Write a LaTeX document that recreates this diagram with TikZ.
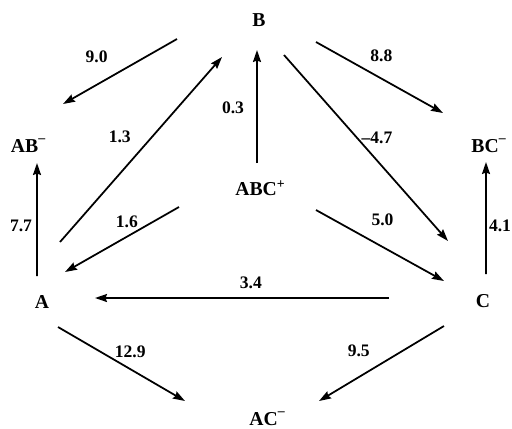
\documentclass[tikz,border=0pt]{standalone}
\usepackage{fontspec}
\setmainfont{Liberation Serif}
\usetikzlibrary{arrows.meta}
\newcommand{\anion}{\textsuperscript{\raisebox{.2em}{--}}}

\begin{document}
\begin{tikzpicture}[
 species/.style={font=\fontsize{11.2}{13}\selectfont\bfseries,inner sep=0pt,anchor=base},
 rate/.style={font=\fontsize{10}{12}\selectfont\bfseries,inner sep=1pt},
 arr/.style={-{Stealth[length=2.4mm,width=1.6mm,inset=0.3mm]},line width=1pt}]
\useasboundingbox (0,0) rectangle (10.24,-8.56);
% species
\node[species] (B) at (5.18,-0.52) {B};
\node[species] (ABm) at (0.57,-3.04) {AB\anion};
\node[species] (ABCp) at (5.21,-3.90) {ABC\textsuperscript{+}};
\node[species] (BCm) at (9.78,-3.04) {BC\anion};
\node[species] (A) at (0.84,-6.16) {A};
\node[species] (C) at (9.66,-6.14) {C};
\node[species] (ACm) at (5.35,-8.50) {AC\anion};
% reactions
\draw[arr] ([shift={(-1.64,-0.26)}]B.base) -- node[rate,pos=.60,shift={(-0.24,0.43)}] {9.0} ([shift={(0.69,0.96)}]ABm.base);
\draw[arr] ([shift={(0.36,1.32)}]A.base) -- node[rate,pos=.48,shift={(-0.36,0.32)}] {1.3} ([shift={(-0.74,-0.62)}]B.base);
\draw[arr] ([shift={(-0.07,0.64)}]ABCp.base) -- node[rate,pos=.49,shift={(-0.48,0)}] {0.3} ([shift={(-0.04,-0.48)}]B.base);
\draw[arr] ([shift={(1.14,-0.32)}]B.base) -- node[rate,pos=.44,shift={(0.19,0.34)}] {8.8} ([shift={(-0.92,0.78)}]BCm.base);
\draw[arr] ([shift={(0.50,-0.58)}]B.base) -- node[rate,pos=.50,shift={(0.22,0.20)}] {\textendash4.7} ([shift={(-0.70,1.32)}]C.base);
\draw[arr] ([shift={(-1.63,-0.24)}]ABCp.base) -- node[rate,pos=.40,shift={(-0.13,0.22)}] {1.6} ([shift={(0.46,0.72)}]A.base);
\draw[arr] ([shift={(-0.10,0.64)}]A.base) -- node[rate,pos=.44,shift={(-0.32,0)}] {7.7} ([shift={(0.17,-0.22)}]ABm.base);
\draw[arr] ([shift={(1.11,-0.30)}]ABCp.base) -- node[rate,pos=.43,shift={(0.23,0.41)}] {5.0} ([shift={(-0.78,0.52)}]C.base);
\draw[arr] ([shift={(0.06,0.66)}]C.base) -- node[rate,pos=.43,shift={(0.28,0)}] {4.1} ([shift={(-0.06,-0.20)}]BCm.base);
\draw[arr] ([shift={(-1.88,0.18)}]C.base) -- node[rate,pos=.47,shift={(0,0.30)}] {3.4} ([shift={(1.06,0.20)}]A.base);
\draw[arr] ([shift={(0.32,-0.38)}]A.base) -- node[rate,pos=.51,shift={(0.15,0.25)}] {12.9} ([shift={(-1.65,0.48)}]ACm.base);
\draw[arr] ([shift={(-0.78,-0.38)}]C.base) -- node[rate,pos=.59,shift={(-0.23,0.39)}] {9.5} ([shift={(1.03,0.48)}]ACm.base);
\end{tikzpicture}
\end{document}
